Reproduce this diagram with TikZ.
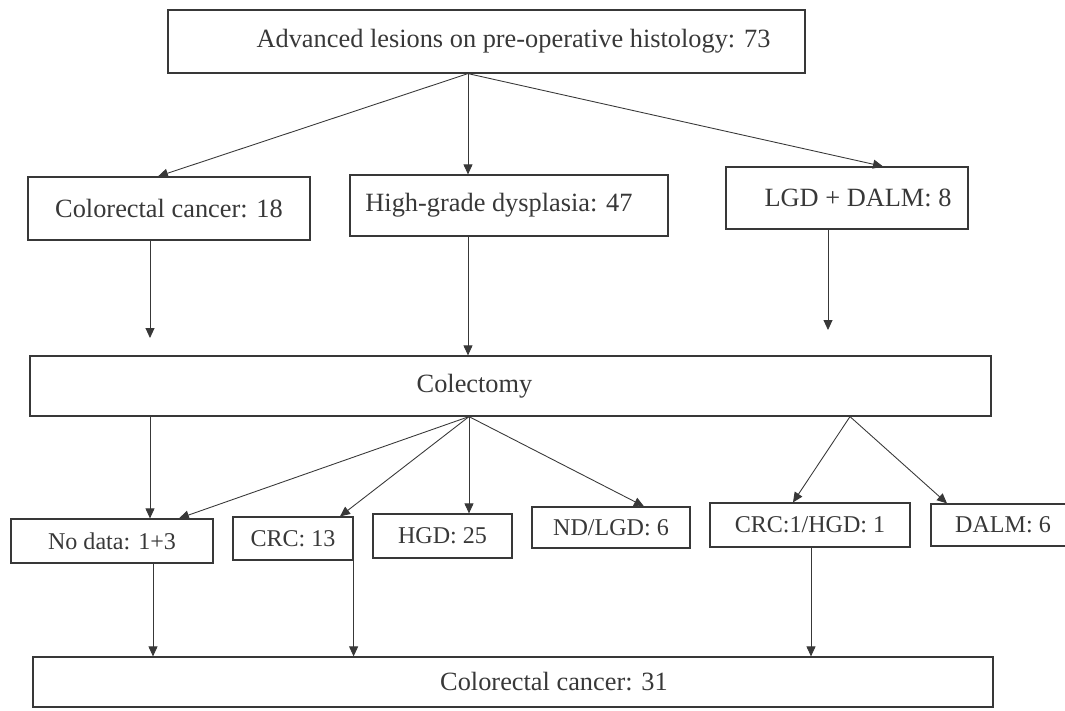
\documentclass[tikz,border=0pt]{standalone}
\usepackage{fontspec}
\setmainfont{Liberation Serif}
\usetikzlibrary{arrows.meta, positioning, calc}
\definecolor{inkgray}{HTML}{383838}
\tikzset{%
	flowbox/.style={
		draw=inkgray,
		line width=0.7pt,
		text=inkgray,
		inner sep=0pt,
		font=\fontsize{15}{18}\selectfont
	},
	smallbox/.style={
		flowbox,
		font=\fontsize{13.7}{16}\selectfont
	},
	flowarrow/.style={
		-{Triangle[length=2mm,width=1.8mm]},
		draw=inkgray,
		line width=0.5pt
	},
}

\begin{document}
\begin{tikzpicture}[x=0.02cm, y=-0.02cm]
	\useasboundingbox (0,0) rectangle (1065,710);
	
	% Draw the top box
	\node[flowbox, minimum width=12.74cm, minimum height=1.26cm] (top) at (486.5,41.5) {\hspace*{1.08cm}Advanced lesions on pre-operative histology: 73};
	
	% Draw the second row
	\node[flowbox, minimum width=5.64cm, minimum height=1.26cm] (crc18) at (169,208.5) {Colorectal cancer: 18};
	\node[flowbox, minimum width=6.36cm, minimum height=1.22cm] (hgd47) at (509,205.5) {High-grade dysplasia: 47\hspace*{0.4cm}};
	\node[flowbox, minimum width=4.84cm, minimum height=1.24cm] (lgd8) at (847,198) {\hspace*{0.44cm}LGD + DALM: 8};
	
	% Draw the colectomy box
	\node[flowbox, minimum width=19.22cm, minimum height=1.2cm] (colectomy) at (510.5,386) {Colectomy\hspace*{1.44cm}};
	
	% Draw the fourth row
	\node[smallbox, minimum width=4.04cm, minimum height=0.88cm] (nodata) at (112,541) {No data: 1+3};
	\node[smallbox, minimum width=2.4cm, minimum height=0.86cm] (crc13) at (293,538.5) {CRC: 13};
	\node[smallbox, minimum width=2.78cm, minimum height=0.88cm] (hgd25) at (442.5,536) {HGD: 25};
	\node[smallbox, minimum width=3.16cm, minimum height=0.82cm] (ndlgd) at (611,527.5) {ND/LGD: 6};
	\node[smallbox, minimum width=4.0cm, minimum height=0.88cm] (crchgd) at (810,525) {CRC:1/HGD: 1};
	\node[smallbox, minimum width=2.88cm, minimum height=0.84cm] (dalm) at (1003,525) {DALM: 6};
	
	% Draw the last box
	\node[flowbox, minimum width=19.2cm, minimum height=1.0cm] (crc31) at (513,682) {\hspace*{1.64cm}Colorectal cancer: 31};
	
	% Draw the arrows from the top box
	\coordinate (split0) at (top.south -| 468,0);
	\draw[flowarrow] (split0) -- (crc18.north -| 158,0);
	\draw[flowarrow] (split0) -- (hgd47.north -| 468,0);
	\draw[flowarrow] (split0) -- (lgd8.north -| 883,0);
	
	% Draw the arrows down to colectomy
	\coordinate (stop1) at (150,338);
	\coordinate (stop2) at (828,330);
	\draw[flowarrow] (crc18.south -| stop1) -- (stop1);
	\draw[flowarrow] (hgd47.south -| 468,0) -- (colectomy.north -| 468,0);
	\draw[flowarrow] (lgd8.south -| stop2) -- (stop2);
	
	% Draw the arrows from colectomy
	\coordinate (split1) at (colectomy.south -| 469,0);
	\coordinate (split2) at (colectomy.south -| 850,0);
	\draw[flowarrow] (colectomy.south -| 150,0) -- (nodata.north -| 150,0);
	\draw[flowarrow] (split1) -- (nodata.north -| 179,0);
	\draw[flowarrow] (split1) -- (crc13.north -| 340,0);
	\draw[flowarrow] (split1) -- (hgd25.north -| 469,0);
	\draw[flowarrow] (split1) -- (ndlgd.north -| 644,0);
	\draw[flowarrow] (split2) -- (crchgd.north -| 793,0);
	\draw[flowarrow] (split2) -- (dalm.north -| 947,0);
	
	% Draw the arrows into the last box
	\draw[flowarrow] (nodata.south -| 153,0) -- (crc31.north -| 153,0);
	\draw[flowarrow] (crc13.south east) -- (crc31.north -| crc13.south east);
	\draw[flowarrow] (crchgd.south -| 811,0) -- (crc31.north -| 811,0);
	
\end{tikzpicture}
\end{document}
